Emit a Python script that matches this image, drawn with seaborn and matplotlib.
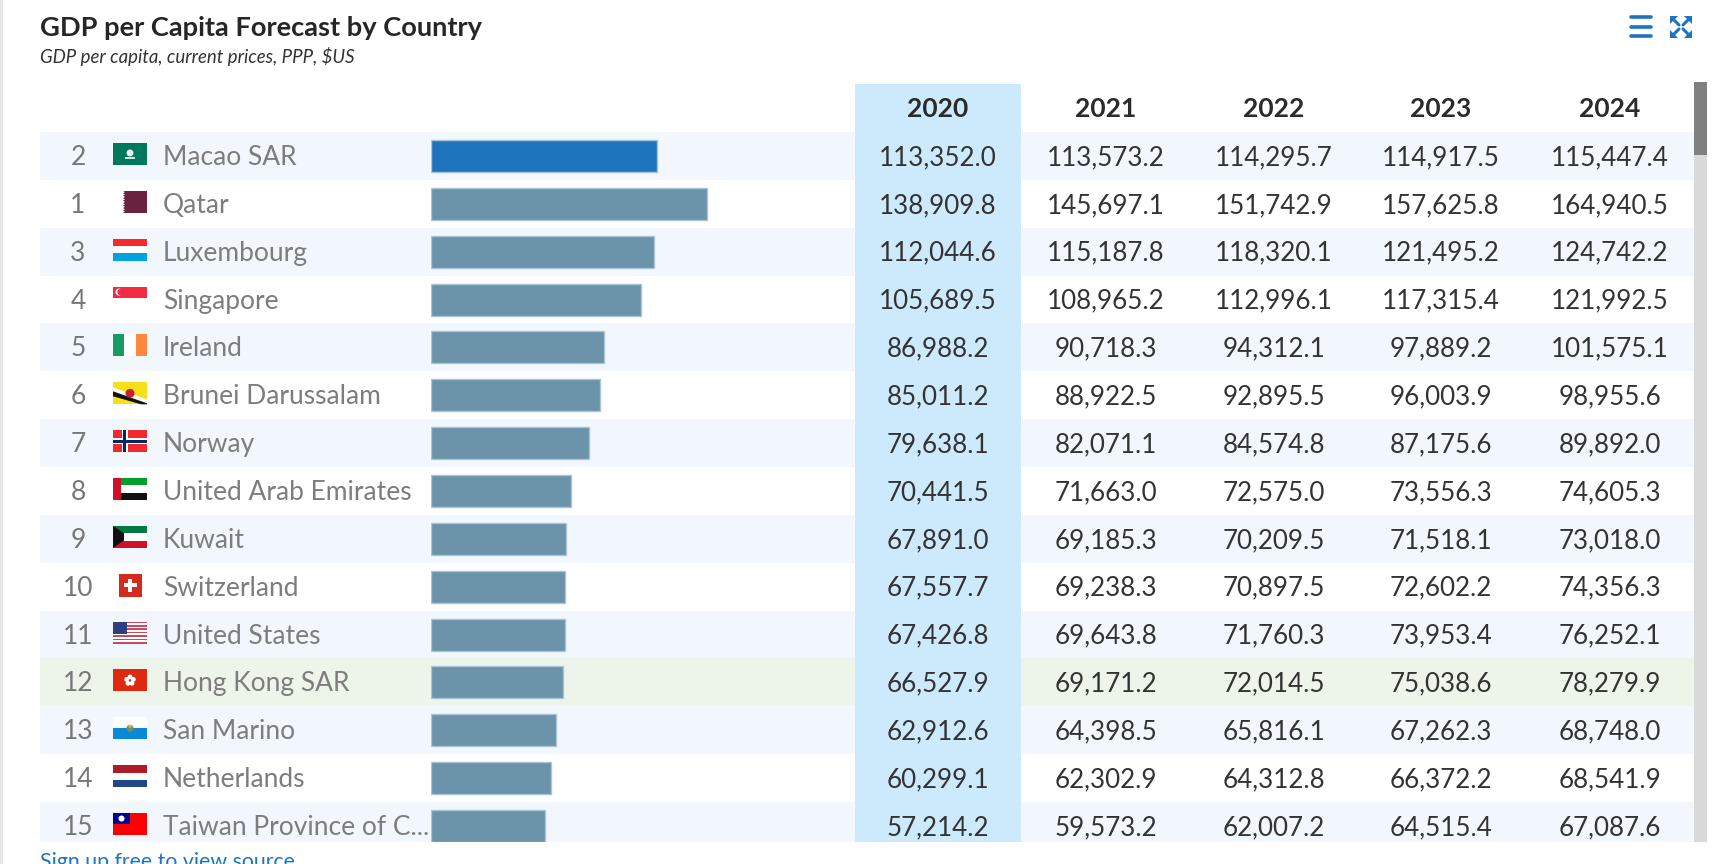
import numpy as np
import pandas as pd
import matplotlib.pyplot as plt
import seaborn as sns
from matplotlib.patches import Rectangle, Polygon, Circle

ranks = [2, 1, 3, 4, 5, 6, 7, 8, 9, 10, 11, 12, 13, 14, 15]
countries = ['Macao SAR', 'Qatar', 'Luxembourg', 'Singapore', 'Ireland', 'Brunei Darussalam',
             'Norway', 'United Arab Emirates', 'Kuwait', 'Switzerland', 'United States',
             'Hong Kong SAR', 'San Marino', 'Netherlands', 'Taiwan Province of C...']
years = ['2020', '2021', '2022', '2023', '2024']
values_2020 = [113352.0, 138909.8, 112044.6, 105689.5, 86988.2, 85011.2, 79638.1, 70441.5,
               67891.0, 67557.7, 67426.8, 66527.9, 62912.6, 60299.1, 57214.2]
values_2021 = [113573.2, 145697.1, 115187.8, 108965.2, 90718.3, 88922.5, 82071.1, 71663.0,
               69185.3, 69238.3, 69643.8, 69171.2, 64398.5, 62302.9, 59573.2]
values_2022 = [114295.7, 151742.9, 118320.1, 112996.1, 94312.1, 92895.5, 84574.8, 72575.0,
               70209.5, 70897.5, 71760.3, 72014.5, 65816.1, 64312.8, 62007.2]
values_2023 = [114917.5, 157625.8, 121495.2, 117315.4, 97889.2, 96003.9, 87175.6, 73556.3,
               71518.1, 72602.2, 73953.4, 75038.6, 67262.3, 66372.2, 64515.4]
values_2024 = [115447.4, 164940.5, 124742.2, 121992.5, 101575.1, 98955.6, 89892.0, 74605.3,
               73018.0, 74356.3, 76252.1, 78279.9, 68748.0, 68541.9, 67087.6]

W, H = 1724, 864
ROW_TOP, ROW_H = 132, 47.86
TABLE_BOTTOM = 842
TABLE_RIGHT = 1694
COL_X = [938, 1106, 1274, 1441, 1610]

BLUE = '#1f75bd'
BAR = '#6b93aa'
ZEBRA = '#f1f7fc'
GREEN_ROW = '#edf5ea'
COL_BLUE = '#cde9fc'

sns.set_theme(style='white')
plt.rcParams['font.family'] = ['Lato', 'DejaVu Sans']

fig = plt.figure(figsize=(W / 100, H / 100), dpi=100)
bg = fig.add_axes([0, 0, 1, 1])
bg.set_xlim(0, W)
bg.set_ylim(H, 0)
bg.axis('off')


def rect(x0, y0, x1, y1, color, zorder=1):
    bg.add_patch(Rectangle((x0, y0), x1 - x0, y1 - y0, facecolor=color, edgecolor='none', zorder=zorder))


# 背景
rect(0, 0, 3, H, '#e6e6e6')
for i in range(len(countries)):
    top = ROW_TOP + i * ROW_H
    bottom = min(top + ROW_H, TABLE_BOTTOM)
    if countries[i] == 'Hong Kong SAR':
        rect(40, top, TABLE_RIGHT, bottom, GREEN_ROW)
    elif i % 2 == 0:
        rect(40, top, TABLE_RIGHT, bottom, ZEBRA)
rect(855, 84, 1021, TABLE_BOTTOM, COL_BLUE, zorder=2)
rect(TABLE_RIGHT, 84, TABLE_RIGHT + 13, TABLE_BOTTOM, '#d9d9d9')
rect(TABLE_RIGHT, 82, TABLE_RIGHT + 13, 155, '#808080')

# 标题
bg.text(40, 28, 'GDP per Capita Forecast by Country', fontsize=19.6, fontweight='bold',
        color='#262626', va='center', ha='left')
bg.text(40, 56.5, 'GDP per capita, current prices, PPP, $US', fontsize=13.4, style='italic',
        color='#333333', va='center', ha='left')
bg.text(40, 862, 'Sign up free to view source', fontsize=15.3, color=BLUE, va='center', ha='left')

# 图标
for y in [17, 27, 36]:
    bg.plot([1631.5, 1651], [y, y], color=BLUE, lw=2.6, solid_capstyle='round')
for sx, sy in [(-1, -1), (1, -1), (-1, 1), (1, 1)]:
    cx, cy = 1681 + sx * 11, 27 + sy * 11
    bg.add_patch(Polygon([(cx, cy), (cx - sx * 8, cy), (cx, cy - sy * 8)], facecolor=BLUE, edgecolor='none'))
    bg.plot([cx - sx * 3, cx - sx * 9], [cy - sy * 3, cy - sy * 9], color=BLUE, lw=2.2)

# 表格文字
all_values = [values_2020, values_2021, values_2022, values_2023, values_2024]
for x, year in zip(COL_X, years):
    bg.text(x, 109, year, fontsize=19, fontweight='bold', color='#2b2b2b', ha='center', va='center', zorder=3)
for i in range(len(countries)):
    y = ROW_TOP + i * ROW_H + 25.5
    bg.text(78, y, str(ranks[i]), fontsize=19, color='#777777', ha='center', va='center', zorder=3)
    bg.text(163, y, countries[i], fontsize=19, color='#7d7d7d', ha='left', va='center', zorder=3)
    for x, col in zip(COL_X, all_values):
        bg.text(x, y, f'{col[i]:,.1f}', fontsize=18.7, color='#333333', ha='center', va='center', zorder=3)


def flag_box(row, x0=113, x1=147, h=22):
    top = ROW_TOP + row * ROW_H + 11
    return x0, top, x1 - x0, h


def stripes_h(row, colors):
    x, y, w, h = flag_box(row)
    f = 1 / len(colors)
    for k, c in enumerate(colors):
        rect(x, y + k * f * h, x + w, y + (k + 1) * f * h, c, zorder=3)


def poly(points, color, zorder=4):
    bg.add_patch(Polygon(points, closed=True, facecolor=color, edgecolor='none', zorder=zorder))


def dot(x, y, r, color, zorder=5):
    bg.add_patch(Circle((x, y), r, facecolor=color, edgecolor='none', zorder=zorder))


# 国旗
x, y, w, h = flag_box(0)
rect(x, y, x + w, y + h, '#00785e', zorder=3)
dot(x + w / 2, y + h / 2 - 1, 3.5, '#e8f2ee')
rect(x + w / 2 - 5, y + h / 2 + 2.5, x + w / 2 + 5, y + h / 2 + 5, '#cfe5dd', zorder=5)

x, y, w, h = flag_box(1, x0=123)
rect(x, y, x + w, y + h, '#6b2140', zorder=3)
for k in range(9):
    poly([(x, y + k * h / 9), (x + 2, y + (k + 0.5) * h / 9), (x, y + (k + 1) * h / 9)], '#ffffff')

stripes_h(2, ['#f42a2f', '#ffffff', '#00a3e0'])

x, y, w, h = flag_box(3)
rect(x, y, x + w, y + h / 2, '#f32c44', zorder=3)
dot(x + 6, y + h / 4, 3.5, '#ffffff')
dot(x + 7.5, y + h / 4, 3.2, '#f32c44')

x, y, w, h = flag_box(4)
rect(x, y, x + w / 3, y + h, '#169b62', zorder=3)
rect(x + w / 3, y, x + w * 2 / 3, y + h, '#ffffff', zorder=3)
rect(x + w * 2 / 3, y, x + w, y + h, '#ff883e', zorder=3)

x, y, w, h = flag_box(5)
rect(x, y, x + w, y + h, '#f7e017', zorder=3)
poly([(x, y + 5), (x, y + 10), (x + w, y + h), (x + w, y + h - 5)], '#ffffff')
poly([(x, y + 9), (x, y + 14), (x + w - 6, y + h), (x + w, y + h), (x + w, y + h - 1)], '#111111')
dot(x + w / 2, y + h / 2, 4.5, '#c8202c')

x, y, w, h = flag_box(6)
rect(x, y, x + w, y + h, '#ef2b2d', zorder=3)
rect(x + 9, y, x + 15, y + h, '#ffffff', zorder=4)
rect(x, y + 8, x + w, y + 14, '#ffffff', zorder=4)
rect(x + 10.5, y, x + 13.5, y + h, '#002868', zorder=5)
rect(x, y + 9.5, x + w, y + 12.5, '#002868', zorder=5)

x, y, w, h = flag_box(7)
rect(x + 8, y, x + w, y + h / 3, '#009e2b', zorder=3)
rect(x + 8, y + h / 3, x + w, y + h * 2 / 3, '#ffffff', zorder=3)
rect(x + 8, y + h * 2 / 3, x + w, y + h, '#111111', zorder=3)
rect(x, y, x + 8, y + h, '#ce1126', zorder=4)

stripes_h(8, ['#007a3d', '#ffffff', '#ce1126'])
x, y, w, h = flag_box(8)
poly([(x, y), (x + 11, y + h / 3), (x + 11, y + h * 2 / 3), (x, y + h)], '#111111')

x, y, w, h = flag_box(9, x0=119, x1=142, h=23)
rect(x, y, x + w, y + h, '#d52b1e', zorder=3)
rect(x + 9.5, y + 5, x + 13.5, y + 18, '#ffffff', zorder=4)
rect(x + 5, y + 9.5, x + 18, y + 13.5, '#ffffff', zorder=4)

x, y, w, h = flag_box(10)
stripes_h(10, ['#c9495e', '#ffffff'] * 6 + ['#c9495e'])
rect(x, y, x + 14, y + 12, '#2f3f7f', zorder=4)

x, y, w, h = flag_box(11)
rect(x, y, x + w, y + h, '#de2910', zorder=3)
for a in np.deg2rad([90, 162, 234, 306, 18]):
    dot(x + w / 2 + 3.5 * np.cos(a), y + h / 2 - 3.5 * np.sin(a), 2.4, '#ffffff')

x, y, w, h = flag_box(12)
rect(x, y, x + w, y + h / 2, '#ffffff', zorder=3)
rect(x, y + h / 2, x + w, y + h, '#0a8ad6', zorder=3)
dot(x + w / 2, y + h / 2, 3.5, '#6f8f5c')
dot(x + w / 2, y + h / 2 - 2, 1.6, '#d8b84a')

stripes_h(13, ['#ae1c28', '#ffffff', '#21468b'])

x, y, w, h = flag_box(14)
rect(x, y, x + w, y + h, '#fe0000', zorder=3)
rect(x, y, x + 17, y + 11, '#000095', zorder=4)
dot(x + 8.5, y + 5.5, 3, '#ffffff')

# 条形图
df = pd.DataFrame({'country': countries, 'value': values_2020})
px_per_unit = 0.00199
bar_x0, bar_x1 = 431, 850
ax = fig.add_axes([bar_x0 / W, 1 - TABLE_BOTTOM / H, (bar_x1 - bar_x0) / W, (TABLE_BOTTOM - ROW_TOP) / H])
ax.patch.set_alpha(0)
palette = {c: (BLUE if c == 'Macao SAR' else BAR) for c in countries}
sns.barplot(data=df, x='value', y='country', hue='country', palette=palette, order=countries,
            hue_order=countries, width=32 / ROW_H, saturation=1, legend=False, dodge=False,
            linewidth=1, edgecolor='#a9c4d4', ax=ax)
ax.set_xlim(0, (bar_x1 - bar_x0) / px_per_unit)
ax.set_ylim((TABLE_BOTTOM - ROW_TOP) / ROW_H - 0.5, -0.5)
ax.axis('off')

plt.savefig('out.png', dpi=100)
plt.close()
